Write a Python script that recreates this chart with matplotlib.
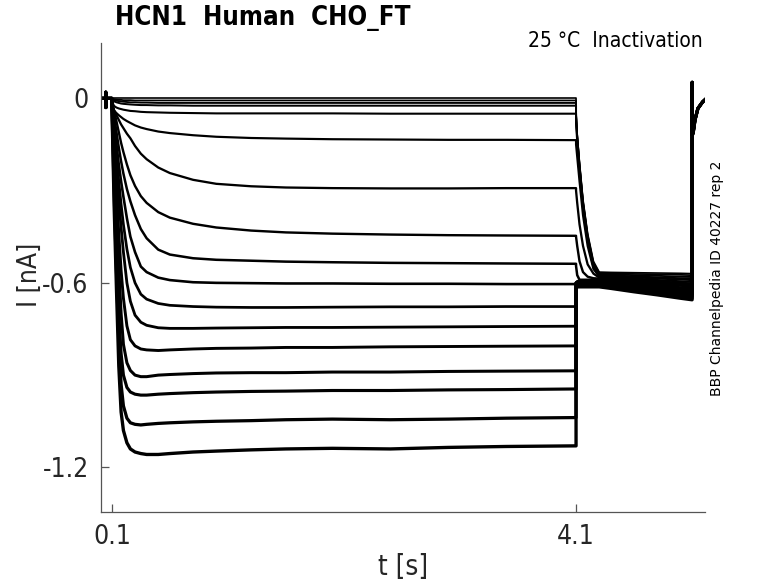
import matplotlib
matplotlib.use("Agg")
import numpy as np
import matplotlib.pyplot as plt

# time bases [s]
t_pre = [0.01, 0.047, 0.048, 0.049, 0.05, 0.1]
i_pre = [0.0, 0.0, 0.02, -0.03, 0.0, 0.0]

t_step = [0.1, 0.12, 0.14, 0.16, 0.18, 0.2, 0.23, 0.26, 0.3, 0.35, 0.4,
          0.5, 0.6, 0.8, 1.0, 1.3, 1.6, 2.0, 2.5, 3.0, 3.5, 4.1]

# currents [nA] during the 4 s conditioning steps, one list per sweep
step_traces = [
    [0.0, 0.001, 0.001, 0.001, 0.001, 0.001, 0.001, 0.001, 0.001, 0.001, 0.001,
     0.001, 0.001, 0.001, 0.001, 0.001, 0.001, 0.001, 0.001, 0.001, 0.001, 0.001],
    [0.0, -0.003, -0.004, -0.005, -0.005, -0.006, -0.006, -0.006, -0.007, -0.007, -0.007,
     -0.007, -0.007, -0.007, -0.007, -0.007, -0.007, -0.007, -0.007, -0.007, -0.007, -0.007],
    [0.0, -0.006, -0.008, -0.009, -0.010, -0.011, -0.012, -0.013, -0.013, -0.014, -0.014,
     -0.015, -0.015, -0.015, -0.015, -0.015, -0.015, -0.015, -0.015, -0.015, -0.015, -0.015],
    [-0.005, -0.010, -0.013, -0.015, -0.017, -0.018, -0.019, -0.020, -0.021, -0.022, -0.022,
     -0.023, -0.023, -0.024, -0.024, -0.024, -0.024, -0.024, -0.024, -0.024, -0.024, -0.024],
    [-0.01, -0.025, -0.030, -0.033, -0.035, -0.037, -0.039, -0.041, -0.042, -0.044, -0.045,
     -0.046, -0.047, -0.048, -0.049, -0.049, -0.049, -0.049, -0.050, -0.050, -0.050, -0.050],
    [-0.02, -0.04, -0.048, -0.055, -0.061, -0.067, -0.074, -0.080, -0.088, -0.095, -0.100,
     -0.108, -0.113, -0.120, -0.125, -0.129, -0.131, -0.133, -0.134, -0.135, -0.135, -0.136],
    [-0.02, -0.04, -0.055, -0.07, -0.085, -0.097, -0.115, -0.13, -0.155, -0.18, -0.198,
     -0.225, -0.243, -0.265, -0.278, -0.286, -0.290, -0.292, -0.293, -0.293, -0.292, -0.292],
    [-0.01, -0.04, -0.075, -0.11, -0.145, -0.175, -0.215, -0.25, -0.285, -0.318, -0.34,
     -0.37, -0.388, -0.408, -0.42, -0.43, -0.436, -0.44, -0.443, -0.445, -0.446, -0.447],
    [-0.01, -0.06, -0.11, -0.16, -0.205, -0.245, -0.295, -0.335, -0.38, -0.425, -0.455,
     -0.492, -0.508, -0.52, -0.525, -0.528, -0.531, -0.533, -0.535, -0.536, -0.537, -0.538],
    [-0.01, -0.08, -0.15, -0.215, -0.27, -0.32, -0.39, -0.45, -0.5, -0.547, -0.565,
     -0.583, -0.591, -0.598, -0.600, -0.601, -0.602, -0.602, -0.603, -0.603, -0.604, -0.604],
    [-0.01, -0.10, -0.19, -0.27, -0.345, -0.41, -0.49, -0.55, -0.60, -0.637, -0.653,
     -0.667, -0.673, -0.677, -0.679, -0.680, -0.680, -0.679, -0.678, -0.678, -0.677, -0.677],
    [-0.01, -0.12, -0.23, -0.33, -0.42, -0.50, -0.60, -0.66, -0.705, -0.728, -0.738,
     -0.746, -0.748, -0.748, -0.747, -0.746, -0.745, -0.745, -0.744, -0.743, -0.742, -0.741],
    [-0.01, -0.15, -0.30, -0.44, -0.56, -0.65, -0.74, -0.785, -0.805, -0.815, -0.818,
     -0.820, -0.818, -0.815, -0.813, -0.812, -0.810, -0.810, -0.808, -0.807, -0.806, -0.805],
    [-0.01, -0.18, -0.37, -0.55, -0.70, -0.80, -0.86, -0.885, -0.90, -0.905, -0.905,
     -0.900, -0.898, -0.895, -0.893, -0.892, -0.892, -0.890, -0.890, -0.888, -0.887, -0.886],
    [-0.01, -0.25, -0.50, -0.70, -0.83, -0.90, -0.94, -0.955, -0.962, -0.965, -0.965,
     -0.962, -0.960, -0.957, -0.955, -0.953, -0.952, -0.950, -0.950, -0.948, -0.947, -0.945],
    [-0.01, -0.30, -0.56, -0.78, -0.93, -1.00, -1.04, -1.055, -1.06, -1.062, -1.06,
     -1.057, -1.055, -1.052, -1.050, -1.048, -1.045, -1.043, -1.045, -1.043, -1.040, -1.038],
    [-0.01, -0.35, -0.62, -0.87, -1.02, -1.08, -1.12, -1.14, -1.15, -1.155, -1.158,
     -1.158, -1.155, -1.150, -1.147, -1.143, -1.140, -1.138, -1.140, -1.135, -1.132, -1.130],
]

t_tail = [4.1, 4.11, 4.13, 4.16, 4.2, 4.25, 4.3, 4.4, 4.6, 4.8, 5.0, 5.1]

# currents [nA] during the test pulse after the step
tail_traces = [
    [-0.05, -0.12, -0.21, -0.33, -0.44, -0.53, -0.565, -0.566, -0.567, -0.568, -0.569, -0.570],
    [-0.05, -0.12, -0.215, -0.335, -0.445, -0.535, -0.568, -0.569, -0.571, -0.572, -0.574, -0.575],
    [-0.055, -0.125, -0.22, -0.34, -0.45, -0.54, -0.571, -0.572, -0.575, -0.577, -0.580, -0.581],
    [-0.06, -0.13, -0.225, -0.345, -0.455, -0.545, -0.574, -0.576, -0.579, -0.582, -0.585, -0.586],
    [-0.08, -0.14, -0.235, -0.355, -0.465, -0.55, -0.577, -0.579, -0.582, -0.586, -0.589, -0.591],
    [-0.15, -0.19, -0.27, -0.38, -0.48, -0.555, -0.580, -0.582, -0.586, -0.591, -0.595, -0.597],
    [-0.30, -0.34, -0.41, -0.48, -0.54, -0.57, -0.583, -0.585, -0.590, -0.595, -0.600, -0.602],
    [-0.45, -0.48, -0.53, -0.565, -0.58, -0.585, -0.586, -0.589, -0.594, -0.599, -0.604, -0.607],
    [-0.545, -0.575, -0.59, -0.59, -0.59, -0.589, -0.589, -0.592, -0.598, -0.603, -0.609, -0.612],
    [-0.60, -0.595, -0.593, -0.592, -0.592, -0.592, -0.592, -0.595, -0.602, -0.608, -0.615, -0.618],
    [-0.60, -0.597, -0.596, -0.595, -0.595, -0.595, -0.595, -0.599, -0.606, -0.613, -0.620, -0.623],
    [-0.60, -0.599, -0.598, -0.598, -0.598, -0.598, -0.598, -0.602, -0.609, -0.617, -0.624, -0.628],
    [-0.60, -0.601, -0.601, -0.601, -0.601, -0.601, -0.601, -0.605, -0.613, -0.622, -0.630, -0.634],
    [-0.60, -0.603, -0.604, -0.604, -0.604, -0.604, -0.604, -0.608, -0.617, -0.626, -0.635, -0.639],
    [-0.61, -0.607, -0.607, -0.607, -0.607, -0.607, -0.607, -0.612, -0.621, -0.630, -0.639, -0.644],
    [-0.61, -0.610, -0.610, -0.610, -0.610, -0.610, -0.610, -0.615, -0.625, -0.635, -0.645, -0.650],
    [-0.62, -0.613, -0.613, -0.613, -0.613, -0.613, -0.613, -0.618, -0.629, -0.639, -0.650, -0.655],
]

# back to holding
t_post = [5.1005, 5.102, 5.11, 5.125, 5.15, 5.19, 5.21]
i_post = [0.052, -0.12, -0.11, -0.07, -0.033, -0.012, -0.005]

fig = plt.figure(figsize=(7.78, 5.83), dpi=100)
ax = fig.add_axes([0.130, 0.1218, 0.776, 0.804])

# sweeps get noisier with size, so draw the bigger ones a bit heavier
widths = np.linspace(1.2, 2.4, len(step_traces))
for st, tl, lw in zip(step_traces, tail_traces, widths):
    t = t_pre + t_step + t_tail + t_post
    i = i_pre + st + tl + i_post
    ax.plot(t, i, color='black', lw=lw, solid_joinstyle='round')

ax.set_xlim(0.008, 5.21)
ax.set_ylim(-1.345, 0.179)
ax.set_xticks([0.1, 4.1])
ax.set_xticklabels(['0.1', '4.1'])
ax.set_yticks([-1.2, -0.6, 0])
ax.set_yticklabels(['-1.2', '-0.6', '0'])

for s in ['top', 'right']:
    ax.spines[s].set_visible(False)
for s in ['left', 'bottom']:
    ax.spines[s].set_color('#555555')
    ax.spines[s].set_linewidth(0.9)

ax.tick_params(direction='in', length=6, width=0.9, color='#555555',
               labelsize=19, labelcolor='#262626', pad=9)
for lab in ax.get_xticklabels() + ax.get_yticklabels():
    lab.set_fontstretch('condensed')

fig.text(403 / 778, 1 - 567 / 583, 't [s]', fontsize=20, color='#262626',
         ha='center', va='center', fontstretch='condensed')
fig.text(30 / 778, 1 - 275 / 583, 'I [nA]', fontsize=19, color='#262626',
         ha='center', va='center', rotation=90, fontstretch='condensed')

fig.text(115 / 778, 1 - 18 / 583, 'HCN1  Human  CHO_FT', fontsize=18.5,
         fontweight='bold', ha='left', va='center', fontstretch='condensed')
fig.text(703 / 778, 1 - 41 / 583, '25 °C  Inactivation', fontsize=15,
         ha='right', va='center', fontstretch='condensed')
fig.text(717 / 778, 1 - 278 / 583, 'BBP Channelpedia ID 40227 rep 2',
         fontsize=10, rotation=90, ha='center', va='center')

fig.savefig('out.png', dpi=100)
